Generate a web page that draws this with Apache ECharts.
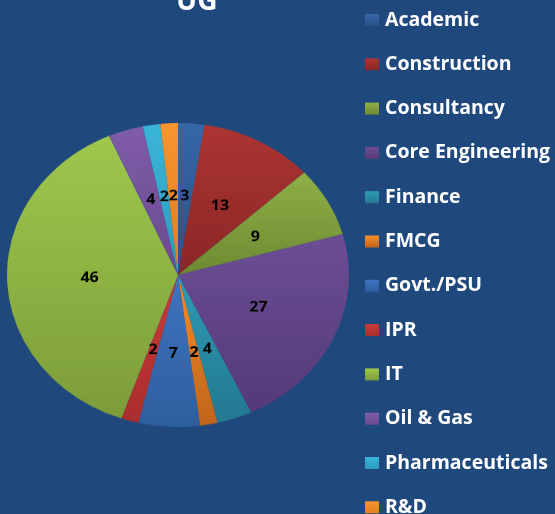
<!DOCTYPE html>
<html>
<head>
<meta charset="utf-8">
<script src="https://cdn.jsdelivr.net/npm/echarts@6/dist/echarts.min.js"></script>
<style>
html,body{margin:0;padding:0;background:#1F497D;}
#wrap{position:relative;width:555px;height:514px;overflow:hidden;background:#1F497D;}
#main{position:absolute;left:0;top:0;width:555px;height:514px;}
#pie{position:absolute;left:7px;top:104px;width:342px;height:342px;transform:scaleY(0.889);transform-origin:50% 50%;}
</style>
</head>
<body>
<div id="wrap">
<div id="main"></div>
<div id="pie"></div>
</div>
<script>
var titleText = 'UG';
var categories = ['Academic','Construction','Consultancy','Core Engineering','Finance','FMCG','Govt./PSU','IPR','IT','Oil & Gas','Pharmaceuticals','R&D'];
var values = [3, 13, 9, 27, 4, 2, 7, 2, 46, 4, 2, 2];
var colorsTop = ['#3667A8','#AC3532','#8EB046','#6C4E96','#2F9CB6','#F58D2B','#3E74C0','#CB3B37','#9FC84D','#805CA8','#3BB6D8','#F9952F'];
var colorsBottom = ['#2A5286','#8A2626','#6D8A32','#543A77','#22788F','#C0641A','#2F5E9E','#A82E2E','#7C9C39','#6A4A90','#2C9ABD','#E07E1E'];

function grad(i){
  return {type:'linear',x:0,y:0,x2:0,y2:1,colorStops:[{offset:0,color:colorsTop[i]},{offset:1,color:colorsBottom[i]}]};
}
var data = categories.map(function(c,i){
  return {name:c, value:values[i], itemStyle:{color:grad(i)}};
});

var main = echarts.init(document.getElementById('main'));
main.setOption({
  backgroundColor:'#1F497D',
  title:{text:titleText,left:176,top:-12,padding:0,textStyle:{color:'#FFFFFF',fontSize:28,fontWeight:'bold',fontFamily:'Open Sans'}},
  legend:{
    orient:'vertical',left:365,top:10,height:700,padding:0,
    itemWidth:14,itemHeight:12,itemGap:24.3,
    icon:'rect',
    textStyle:{color:'#FFFFFF',fontSize:19.5,fontWeight:'bold',fontFamily:'Open Sans',lineHeight:20,padding:[0,0,0,1]},
    data:categories
  },
  series:[{
    type:'pie',radius:0,center:[-1000,-1000],silent:true,
    label:{show:false},labelLine:{show:false},
    data:data
  }]
});

var pie = echarts.init(document.getElementById('pie'));
pie.setOption({
  series:[{
    type:'pie',
    radius:[0,171],
    center:['50%','50%'],
    startAngle:90,
    clockwise:true,
    avoidLabelOverlap:false,
    labelLayout:{hideOverlap:false},
    itemStyle:{borderWidth:0},
    label:{show:true,position:'inside',color:'#000000',fontSize:16,fontWeight:'bold',fontFamily:'Open Sans',formatter:'{c}'},
    labelLine:{show:false},
    emphasis:{disabled:true},
    data:data
  }]
});
</script>
</body>
</html>
